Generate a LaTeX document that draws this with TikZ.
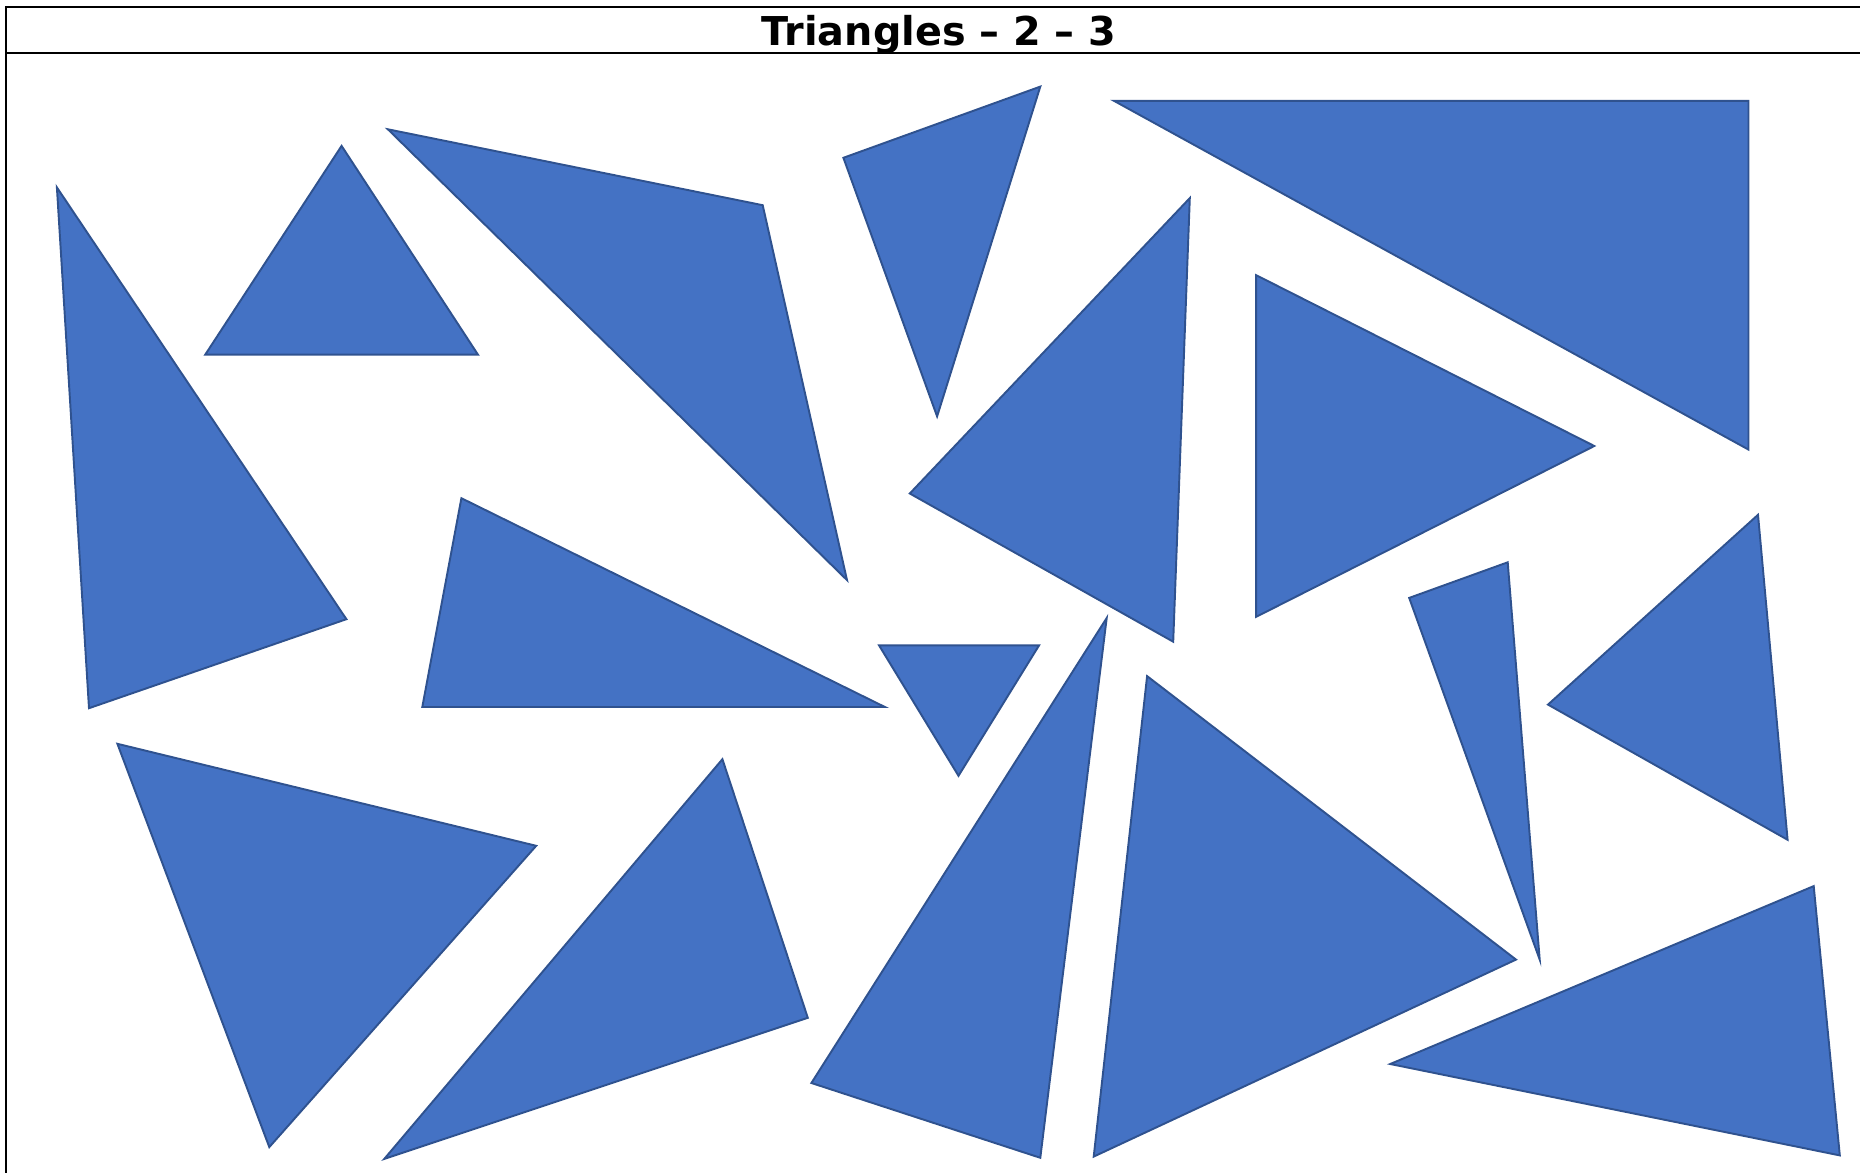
\documentclass[tikz,border=0pt]{standalone}
\usepackage{fontspec}
\setmainfont{DejaVu Sans}
\definecolor{triblue}{HTML}{4472C4}
\definecolor{triedge}{HTML}{2F528F}

\begin{document}
\begin{tikzpicture}[x=0.01cm,y=-0.01cm]
      \useasboundingbox (0,0) rectangle (1860,1173);
      \begin{scope}[every path/.style={draw=black,line width=0.6pt}]
        \path (6,1173) -- (6,7) -- (1860,7);
        \path (6,53) -- (1860,53);
      \end{scope}
      \node[font=\bfseries\fontsize{11.3}{13}\selectfont] (title) at (939,35) {Triangles -- 2 -- 3};
      \begin{scope}
        [every path/.style={fill=triblue,draw=triedge,line width=0.55pt}]
        \path (56.9,187.4) -- (346.4,619.2) -- (89.0,708.2) -- cycle;
        \path (341.6,145.9) -- (478.0,354.7) -- (205.2,354.7) -- cycle;
        \path (387.9,129.3) -- (762.7,205.2) -- (847.0,580.1) -- cycle;
        \path (843.4,157.8) -- (1040.3,86.6) -- (937.1,416.4) -- cycle;
        \path (1113.9,100.8) -- (1748.5,100.8) -- (1748.5,449.6) -- cycle;
        \path (1189.8,198.1) -- (1173.2,641.7) -- (909.8,493.5) -- cycle;
        \path (1256.2,275.2) -- (1594.3,446.0) -- (1256.2,616.8) -- cycle;
        \path (461.4,498.2) -- (884.9,707.0) -- (422.3,707.0) -- cycle;
        \path (879.0,645.3) -- (1039.1,645.3) -- (958.5,775.8) -- cycle;
        \path (1409.2,597.9) -- (1507.7,562.3) -- (1539.7,959.6) -- cycle;
        \path (1758.0,514.8) -- (1787.6,839.8) -- (1548.0,704.6) -- cycle;
        \path (117.4,743.8) -- (536.2,845.8) -- (269.3,1147.1) -- cycle;
        \path (722.4,759.2) -- (807.8,1017.8) -- (384.3,1158.9) -- cycle;
        \path (1106.7,618.0) -- (1040.3,1157.8) -- (811.4,1083.0) -- cycle;
        \path (1147.1,676.1) -- (1516.0,959.6) -- (1093.7,1156.6) -- cycle;
        \path (1813.7,886.1) -- (1839.8,1155.4) -- (1390.2,1064.0) -- cycle;
      \end{scope}
    \end{tikzpicture}
\end{document}
